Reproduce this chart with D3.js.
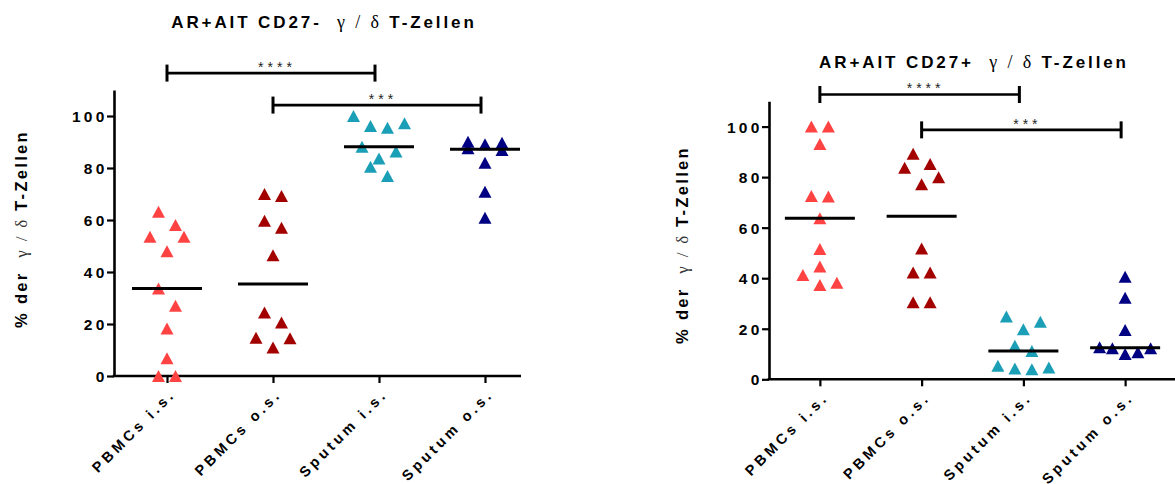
<!DOCTYPE html>
<html>
<head>
<meta charset="utf-8">
<script src="https://cdn.jsdelivr.net/npm/d3@7"></script>
<style>
  body { margin: 0; background: #fff; }
  svg { display: block; }
  text { white-space: pre; }
</style>
</head>
<body>
<svg id="chart" width="1175" height="484"></svg>
<script>
// Values
const categories = ["PBMCs i.s.", "PBMCs o.s.", "Sputum i.s.", "Sputum o.s."];
const yTicks = [0, 20, 40, 60, 80, 100];

// CD27- panel (% of gamma/delta T cells)
const negPbmcsIs = [63.2, 58.1, 53.6, 53.6, 48.0, 33.7, 27.0, 18.3, 6.8, 0, 0];
const negPbmcsOs = [70.0, 69.2, 59.7, 57.0, 46.4, 24.4, 20.6, 14.7, 14.5, 11.0];
const negSputumIs = [100, 97.2, 96.2, 95.5, 88.2, 86.3, 83.7, 80.5, 76.9];
const negSputumOs = [90.1, 89.7, 89.1, 87.6, 86.9, 82.0, 70.9, 60.9];
const negSignificance = [
	["PBMCs i.s.", "Sputum i.s.", 116.5, "****"],
	["PBMCs o.s.", "Sputum o.s.", 104.2, "***"],
];

// CD27+ panel
const posPbmcsIs = [100, 100, 93.1, 72.5, 72.3, 63.7, 51.6, 44.6, 41.3, 38.2, 37.3];
const posPbmcsOs = [89.2, 85.2, 83.7, 79.9, 77.2, 51.8, 42.3, 42.3, 30.5, 30.5];
const posSputumIs = [24.8, 22.8, 19.8, 13.3, 11.2, 5.4, 4.7, 4.3, 4.0];
const posSputumOs = [40.6, 32.3, 19.5, 12.7, 12.3, 12.3, 10.7, 10.0];
const posSignificance = [
	["PBMCs i.s.", "Sputum i.s.", 112.7, "****"],
	["PBMCs o.s.", "Sputum o.s.", 98.7, "***"],
];

const scaleColor = d3.scaleOrdinal(categories, ["#ff4343", "#a30000", "#1b9fb6", "#000083"]);

const font = "'Liberation Sans', Arial, sans-serif";
const greekFont = "'Liberation Serif', 'Times New Roman', serif";
const markerW = 13,
	markerH = 12,
	slotUnit = 8.5,
	maxSlot = 3,
	groupThreshold = 6.75;

const panels = [
	{
		title: "AR+AIT CD27-",
		series: [negPbmcsIs, negPbmcsOs, negSputumIs, negSputumOs],
		significance: negSignificance,
		left: 114, right: 538, axisEnd: 521,
		bottom: 376, top: 90,
		titleX: 324, titleY: 28,
		labelX: 27, labelY: 229,
	},
	{
		title: "AR+AIT CD27+",
		series: [posPbmcsIs, posPbmcsOs, posSputumIs, posSputumOs],
		significance: posSignificance,
		left: 769, right: 1176, axisEnd: 1176,
		bottom: 379.3, top: 101.3,
		titleX: 974, titleY: 68,
		labelX: 688, labelY: 245,
	},
];

const svg = d3.select("#chart");

// GraphPad-like horizontal spreading of points with similar values
function dodge(values) {
	const pts = values.map((v) => ({ v })).sort((a, b) => a.v - b.v);
	const groups = [];
	pts.forEach((p) => {
		const g = groups[groups.length - 1];
		if (g && p.v - g[0].v < groupThreshold) g.push(p);
		else groups.push([p]);
	});
	groups.forEach((g) => {
		const n = g.length;
		const slots = n % 2 ? [0] : [];
		for (let k = n % 2 ? 2 : 1; slots.length < n; k += 2) slots.push(k, -k);
		const s = Math.min(1, maxSlot / Math.max(1, n - 1));
		g.forEach((p, i) => (p.slot = slots[i] * s));
	});
	return pts;
}

const triangle = `M0,${-markerH / 2}L${markerW / 2},${markerH / 2}L${-markerW / 2},${markerH / 2}Z`;

function drawPanel(p) {
	const x = d3.scalePoint().domain(categories).range([p.left, p.right]).padding(0.5);
	const y = d3.scaleLinear().domain([0, 110]).range([p.bottom, p.top]);
	const g = svg.append("g");

	// y axis
	const yAxis = g
		.append("g")
		.attr("transform", `translate(${p.left},0)`)
		.call(d3.axisLeft(y).tickValues(yTicks).tickSize(7).tickSizeOuter(0));
	yAxis.select(".domain").attr("stroke-width", 2.6);
	yAxis.selectAll(".tick line").attr("stroke-width", 2.2);
	yAxis
		.selectAll(".tick text")
		.attr("x", -6.5)
		.attr("dy", "0.36em")
		.attr("font-family", font)
		.attr("font-weight", "bold")
		.attr("font-size", 15.5)
		.attr("letter-spacing", 3.2)
		.attr("fill", "#000");

	// x axis
	const xAxis = g
		.append("g")
		.attr("transform", `translate(0,${p.bottom})`)
		.call(d3.axisBottom(x).tickSize(7).tickSizeOuter(0));
	xAxis.select(".domain").remove();
	xAxis
		.append("line")
		.attr("x1", p.left - 1.3)
		.attr("x2", p.axisEnd)
		.attr("stroke", "#000")
		.attr("stroke-width", 2.6);
	xAxis.selectAll(".tick line").attr("stroke-width", 2.2);
	xAxis
		.selectAll(".tick text")
		.attr("y", 0)
		.attr("dy", 0)
		.attr("text-anchor", "end")
		.attr("transform", "translate(9,19) rotate(-45)")
		.attr("font-family", font)
		.attr("font-weight", "bold")
		.attr("font-size", 14.5)
		.attr("letter-spacing", 3.6)
		.attr("fill", "#000");

	// points
	p.series.forEach((values, i) => {
		const cat = categories[i];
		g.append("g")
			.selectAll("path")
			.data(dodge(values))
			.join("path")
			.attr("d", triangle)
			.attr("transform", (d) => `translate(${x(cat) + d.slot * slotUnit},${y(d.v)})`)
			.attr("fill", scaleColor(cat));

		const med = d3.median(values);
		g.append("line")
			.attr("x1", x(cat) - 35)
			.attr("x2", x(cat) + 35)
			.attr("y1", y(med))
			.attr("y2", y(med))
			.attr("stroke", "#000")
			.attr("stroke-width", 3);
	});

	// significance brackets
	const sig = g
		.selectAll(".sig")
		.data(p.significance)
		.join("g")
		.classed("sig", true)
		.attr("transform", (d) => `translate(0,${y(d[2])})`);
	sig.append("line")
		.attr("x1", (d) => x(d[0]))
		.attr("x2", (d) => x(d[1]) - 4)
		.attr("stroke", "#000")
		.attr("stroke-width", 2.6);
	sig.selectAll(".end")
		.data((d) => [x(d[0]), x(d[1]) - 4])
		.join("line")
		.classed("end", true)
		.attr("x1", (d) => d)
		.attr("x2", (d) => d)
		.attr("y1", -8.5)
		.attr("y2", 8.5)
		.attr("stroke", "#000")
		.attr("stroke-width", 3);
	sig.append("text")
		.attr("x", (d) => (x(d[0]) + x(d[1])) / 2 + 4)
		.attr("y", -1)
		.attr("text-anchor", "middle")
		.attr("font-family", font)
		.attr("font-size", 14)
		.attr("letter-spacing", 4)
		.attr("fill", "#222")
		.text((d) => d[3]);

	// title
	const title = g
		.append("text")
		.attr("x", p.titleX)
		.attr("y", p.titleY)
		.attr("text-anchor", "middle")
		.attr("font-family", font)
		.attr("font-size", 17)
		.attr("letter-spacing", 2.9)
		.attr("fill", "#000");
	title.append("tspan").attr("font-weight", "bold").text(p.title + "  ");
	title.append("tspan").attr("font-family", greekFont).attr("font-size", 18).text("γ / δ ");
	title.append("tspan").attr("font-weight", "bold").text("T-Zellen");

	// y axis label
	const label = g
		.append("text")
		.attr("transform", `translate(${p.labelX},${p.labelY}) rotate(-90)`)
		.attr("text-anchor", "middle")
		.attr("font-family", font)
		.attr("font-size", 16.5)
		.attr("letter-spacing", 2.3)
		.attr("fill", "#000");
	label.append("tspan").attr("font-weight", "bold").text("% der  ");
	label.append("tspan").attr("font-family", greekFont).attr("font-size", 17).attr("fill", "#333").text("γ / δ ");
	label.append("tspan").attr("font-weight", "bold").text("T-Zellen");
}

panels.forEach(drawPanel);
</script>
</body>
</html>
